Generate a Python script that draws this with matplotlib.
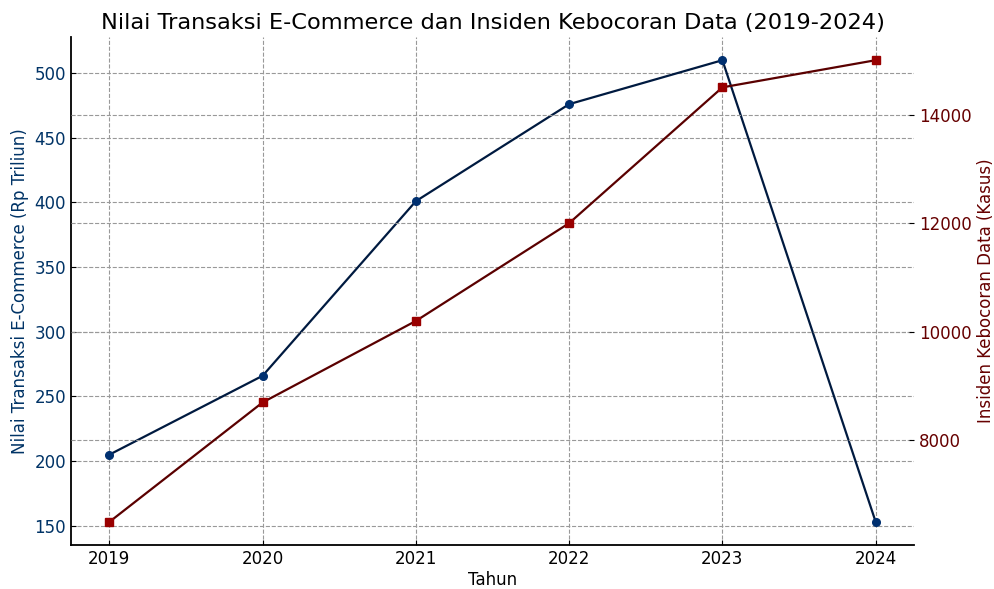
import matplotlib
matplotlib.use("Agg")
import matplotlib.pyplot as plt

years = [2019, 2020, 2021, 2022, 2023, 2024]
ecommerce = [205, 266, 401, 476, 510, 153]
incidents = [6500, 8700, 10200, 12000, 14500, 15000]

blue_line = '#001a40'
blue_marker = '#003070'
red_line = '#5a0000'
red_marker = '#990000'

fig = plt.figure(figsize=(9.95, 5.89), dpi=100)
ax = fig.add_axes([0.0714, 0.0747, 0.8472, 0.8623])
ax2 = ax.twinx()

ax.plot(years, ecommerce, color=blue_line, marker='o', markersize=5.5,
        markerfacecolor=blue_marker, markeredgecolor=blue_marker, linewidth=1.6)
ax2.plot(years, incidents, color=red_line, marker='s', markersize=6,
         markerfacecolor=red_marker, markeredgecolor=red_marker, linewidth=1.6)

ax.set_xticks(years)
ax.set_xlabel('Tahun', fontsize=12, labelpad=2)
ax.set_ylabel('Nilai Transaksi E-Commerce (Rp Triliun)', fontsize=12, color='#003366')
ax2.set_ylabel('Insiden Kebocoran Data (Kasus)', fontsize=12, color='#660000')
ax.set_title('Nilai Transaksi E-Commerce dan Insiden Kebocoran Data (2019-2024)', fontsize=16.2)

ax.tick_params(axis='y', labelcolor='#003366', labelsize=12, direction='in')
ax.tick_params(axis='x', labelsize=12, direction='in')
ax2.tick_params(axis='y', labelcolor='#660000', labelsize=12, direction='in')

for a in (ax, ax2):
    a.spines['top'].set_visible(False)
    a.spines['right'].set_visible(False)
ax2.spines['left'].set_visible(False)
ax2.spines['bottom'].set_visible(False)
ax.spines['left'].set_linewidth(1.3)
ax.spines['bottom'].set_linewidth(1.3)

ax.grid(True, linestyle='--', color='#999999', linewidth=0.8)
ax2.grid(True, axis='y', linestyle='--', color='#999999', linewidth=0.8)

fig.savefig('out.png', dpi=100)
